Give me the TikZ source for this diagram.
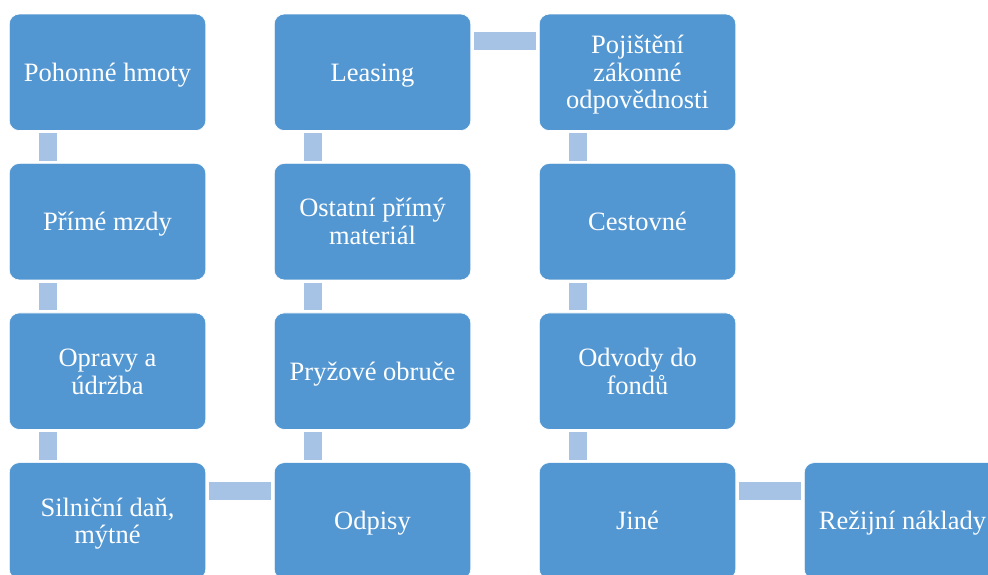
\documentclass[tikz,border=0pt]{standalone}
\usepackage{fontspec}
\setmainfont{Liberation Serif}
\newfontfamily\boxfont{Liberation Serif}
\usetikzlibrary{calc}
\definecolor{boxblue}{RGB}{83,151,210}
\definecolor{connblue}{RGB}{166,194,228}
\newcommand{\boxstrut}{\vrule width 0pt height 23.6pt depth 5.6pt\relax}
\newcommand{\bl}[1]{\boxstrut#1\boxstrut}
\newcommand{\boxsetup}{\boxfont\fontsize{26.5}{27.6}\selectfont\lineskiplimit=-100pt\relax}
\tikzset{
  box/.style={rectangle, rounded corners=10pt, fill=boxblue, draw=white, line width=0.6pt,
    minimum width=196.5pt, minimum height=116.5pt, inner sep=0pt, text=white, align=center,
    font=\boxsetup},
  conn/.style={draw=connblue, line width=18pt, line cap=butt}
}
\begin{document}
\begin{tikzpicture}[x=1pt,y=-1pt]
\useasboundingbox (0,0) rectangle (988,575);
\clip (0,0) rectangle (988,575);
% column 1
\node[box] (a1) at (107.5,72.3) {\bl{Pohonné hmoty}};
\node[box] (a2) at (107.5,221.7) {\bl{Přímé mzdy}};
\node[box] (a3) at (107.5,371.2) {\bl{Opravy a}\\\bl{údržba}};
\node[box] (a4) at (107.5,520.9) {\bl{Silniční daň,}\\\bl{mýtné}};
% column 2
\node[box] (b1) at (372.5,72.3) {\bl{Leasing}};
\node[box] (b2) at (372.5,221.7) {\bl{Ostatní přímý}\\\bl{materiál}};
\node[box] (b3) at (372.5,371.2) {\bl{Pryžové obruče}};
\node[box] (b4) at (372.5,520.9) {\bl{Odpisy}};
% column 3
\node[box] (c1) at (637.5,72.3) {\bl{Pojištění}\\\bl{zákonné}\\\bl{odpovědnosti}};
\node[box] (c2) at (637.5,221.7) {\bl{Cestovné}};
\node[box] (c3) at (637.5,371.2) {\bl{Odvody do}\\\bl{fondů}};
\node[box] (c4) at (637.5,520.9) {\bl{Jiné}};
% column 4
\node[box] (d4) at (902.5,520.9) {\bl{Režijní náklady}};
% vertical connectors
\draw[conn] ($(a1.south west)+(38.7,2.6)$) -- ($(a2.north west)+(38.7,-2.6)$);
\draw[conn] ($(a2.south west)+(38.7,2.6)$) -- ($(a3.north west)+(38.7,-2.6)$);
\draw[conn] ($(a3.south west)+(38.7,2.6)$) -- ($(a4.north west)+(38.7,-2.6)$);
\draw[conn] ($(b4.north west)+(38.7,-2.6)$) -- ($(b3.south west)+(38.7,2.6)$);
\draw[conn] ($(b3.north west)+(38.7,-2.6)$) -- ($(b2.south west)+(38.7,2.6)$);
\draw[conn] ($(b2.north west)+(38.7,-2.6)$) -- ($(b1.south west)+(38.7,2.6)$);
\draw[conn] ($(c1.south west)+(38.7,2.6)$) -- ($(c2.north west)+(38.7,-2.6)$);
\draw[conn] ($(c2.south west)+(38.7,2.6)$) -- ($(c3.north west)+(38.7,-2.6)$);
\draw[conn] ($(c3.south west)+(38.7,2.6)$) -- ($(c4.north west)+(38.7,-2.6)$);
% horizontal connectors
\draw[conn] ($(a4.north east)+(2.6,28.3)$) -- ($(b4.north west)+(-2.6,28.3)$);
\draw[conn] ($(b1.north east)+(2.6,27.7)$) -- ($(c1.north west)+(-2.6,27.7)$);
\draw[conn] ($(c4.north east)+(2.6,28.3)$) -- ($(d4.north west)+(-2.6,28.3)$);
\end{tikzpicture}
\end{document}
